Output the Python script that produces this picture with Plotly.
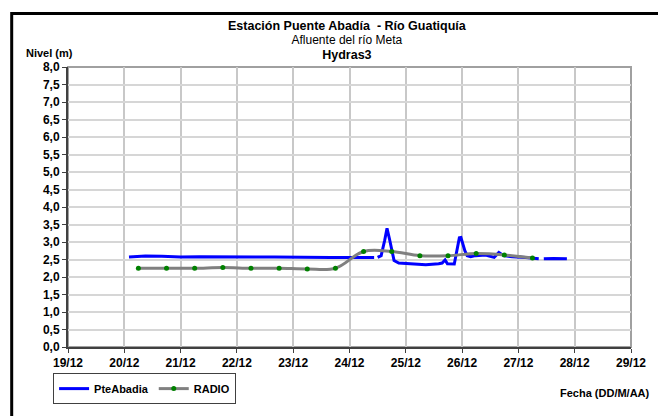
import plotly.graph_objects as go

# PteAbadia level readings (None = missing data -> gap in the line)
pte_dates = [
    "2010-12-20 02:00", "2010-12-20 09:00", "2010-12-20 16:00", "2010-12-21 00:00",
    "2010-12-21 08:00", "2010-12-21 16:00", "2010-12-22 00:00", "2010-12-22 08:00",
    "2010-12-22 16:00", "2010-12-23 00:00", "2010-12-23 08:00", "2010-12-23 16:00",
    "2010-12-24 00:00", "2010-12-24 10:30", "2010-12-24 11:30", "2010-12-24 12:00",
    "2010-12-24 13:30", "2010-12-24 15:00", "2010-12-24 16:00", "2010-12-24 17:00",
    "2010-12-24 18:15", "2010-12-24 19:00", "2010-12-24 21:00", "2010-12-25 01:30",
    "2010-12-25 08:30", "2010-12-25 14:00", "2010-12-25 15:30", "2010-12-25 16:45",
    "2010-12-25 17:45", "2010-12-25 20:40", "2010-12-25 21:20", "2010-12-25 22:50",
    "2010-12-25 23:30", "2010-12-26 01:10", "2010-12-26 02:10", "2010-12-26 03:40",
    "2010-12-26 05:45", "2010-12-26 10:00", "2010-12-26 13:40", "2010-12-26 15:40",
    "2010-12-26 17:45", "2010-12-26 21:20", "2010-12-27 03:00", "2010-12-27 08:40",
    "2010-12-27 09:40", "2010-12-27 10:50", "2010-12-27 15:00", "2010-12-27 20:40",
]
pte_nivel = [
    2.57, 2.60, 2.59, 2.57,
    2.58, 2.57, 2.58, 2.57,
    2.57, 2.56, 2.57, 2.56,
    2.56, 2.56, None, 2.56,
    2.61, 3.05, 3.39, 3.10,
    2.75, 2.47, 2.40, 2.38,
    2.35, 2.38, 2.40, 2.49,
    2.38, 2.37, 2.61, 3.12,
    3.13, 2.75, 2.61, 2.58,
    2.61, 2.63, 2.56, 2.70,
    2.61, 2.58, 2.56, 2.52,
    None, 2.52, 2.53, 2.52,
]

# RADIO readings, twice a day
radio_dates = [
    "2010-12-20 06:00", "2010-12-20 18:00", "2010-12-21 06:00", "2010-12-21 18:00",
    "2010-12-22 06:00", "2010-12-22 18:00", "2010-12-23 06:00", "2010-12-23 18:00",
    "2010-12-24 06:00", "2010-12-24 18:00", "2010-12-25 06:00", "2010-12-25 18:00",
    "2010-12-26 06:00", "2010-12-26 18:00", "2010-12-27 06:00",
]
radio_nivel = [
    2.25, 2.25, 2.25, 2.27,
    2.25, 2.25, 2.23, 2.25,
    2.73, 2.73, 2.61, 2.61,
    2.67, 2.63, 2.54,
]

title_lines = [
    "<span style='font-size:12.5px'><b>Estación Puente Abadía  - Río Guatiquía</b></span>",
    "<span style='font-size:12px'>Afluente del río Meta</span>",
    "<span style='font-size:12.5px'><b>Hydras3</b></span>",
]

FONT = "Liberation Sans, Arial, sans-serif"

fig = go.Figure()
fig.add_trace(go.Scatter(
    x=pte_dates, y=pte_nivel, name="PteAbadia", mode="lines",
    line=dict(color="#0000ff", width=3), connectgaps=False,
))
fig.add_trace(go.Scatter(
    x=radio_dates, y=radio_nivel, name="RADIO", mode="lines+markers",
    line=dict(color="#808080", width=3, shape="spline", smoothing=1.0),
    marker=dict(color="#008000", size=5),
))

# plot area border (gray) and outer black frame
fig.add_shape(type="rect", xref="paper", yref="paper", x0=0, y0=0, x1=1, y1=1,
              line=dict(color="#a0a0a0", width=2), layer="below")
fig.add_shape(type="rect", xref="paper", yref="paper", x0=-0.1, y0=-0.4, x1=1.2, y1=1.191,
              line=dict(color="black", width=3))

# three-line title in one block (11px base -> ~14px line spacing)
fig.add_annotation(text="<br>".join(title_lines), x=0.4965, y=1.0957,
                   xref="paper", yref="paper", showarrow=False, yanchor="middle",
                   font=dict(family=FONT, size=11, color="black"))
fig.add_annotation(text="<b>Nivel (m)</b>", x=-0.078, y=1.0508, xanchor="left",
                   xref="paper", yref="paper", showarrow=False, yanchor="middle",
                   font=dict(family=FONT, size=11, color="black"))
fig.add_annotation(text="<b>Fecha (DD/M/AA)</b>", x=1.037, y=-0.1625, xanchor="right",
                   xref="paper", yref="paper", showarrow=False, yanchor="middle",
                   font=dict(family=FONT, size=11, color="black"))

fig.update_xaxes(
    type="date", range=["2010-12-19", "2010-12-29"], dtick=86400000,
    tick0="2010-12-19", tickformat="%d/%m",
    showgrid=True, gridcolor="#c8c8c8", gridwidth=1.5,
    showline=True, linecolor="#404040", linewidth=2,
    ticks="outside", ticklen=4, tickcolor="#404040",
    tickfont=dict(family=FONT, size=12, color="black", weight="bold"),
)
fig.update_yaxes(
    range=[0, 8], dtick=0.5, tickformat=".1f",
    showgrid=True, gridcolor="#d6d6d6", gridwidth=1.5, zeroline=False,
    showline=True, linecolor="#404040", linewidth=2,
    ticks="outside", ticklen=4, tickcolor="#404040",
    tickfont=dict(family=FONT, size=12, color="black", weight="bold"),
)

fig.update_layout(
    width=658, height=416,
    margin=dict(l=68, r=25, t=67, b=60),
    separators=",.",
    plot_bgcolor="white", paper_bgcolor="white",
    showlegend=True,
    legend=dict(
        orientation="h", x=-0.0265, y=-0.1486, xanchor="left", yanchor="middle",
        bordercolor="#404040", borderwidth=1, bgcolor="white",
        font=dict(family=FONT, size=11, color="black", weight="bold"),
        itemwidth=30, tracegroupgap=0,
    ),
)

# the page body has a default 8px margin; drop it so the figure fills the window
fig.write_html("out.html", config={"displayModeBar": False},
               post_script="document.body.style.margin='0';")
